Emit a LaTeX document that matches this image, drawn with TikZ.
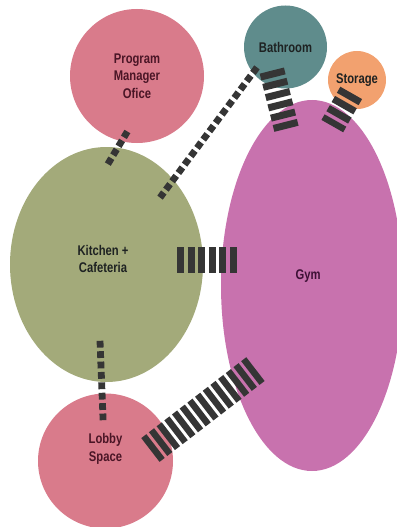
\documentclass[tikz,border=0pt]{standalone}
\usepackage{fontspec}
\setmainfont{Liberation Sans}[FakeStretch=0.8]
\usetikzlibrary{shapes.geometric}
\newlength{\px}
\setlength{\px}{0.02cm}
\definecolor{roompink}{HTML}{D97B8B}
\definecolor{bathteal}{HTML}{5F8C8C}
\definecolor{storeorange}{HTML}{F2A16F}
\definecolor{kitchengreen}{HTML}{A3AA7A}
\definecolor{gympurple}{HTML}{C872AE}
\definecolor{bar}{HTML}{353535}
\definecolor{maroontext}{HTML}{4A1526}
\definecolor{darktext}{HTML}{1E2222}
\definecolor{gymtext}{HTML}{3D1035}
\tikzset{room/.style = {circle,inner sep=0pt,align=center,font=\fontsize{8}{10}\selectfont\bfseries},
  oval/.style = {room,ellipse},
  lbl/.style = {align=center,font=\fontsize{8}{10}\selectfont\bfseries},
  dots/.style = {draw=bar,line width=6.8\px,dash pattern=on 6.8\px off 3.6\px},
  bars/.style = {draw=bar,dash pattern=on 7\px off 3.6\px}}

\begin{document}
\begin{tikzpicture}[x=0.02cm,y=-0.02cm]
    \useasboundingbox (0,0) rectangle (396,527);
    % rooms
    \node[room,fill=roompink,text=maroontext,minimum size=134\px] (pmo) at (137,76) {Program\\Manager\\Ofice};
    \node[room,fill=bathteal,text=darktext,minimum size=83\px] (bath) at (285.5,47) {Bathroom};
    \node[room,fill=storeorange,text=darktext,minimum size=58\px] (store) at (357,80) {Storage};
    \node[oval,fill=kitchengreen,minimum width=193\px,minimum height=235\px,
        label={[lbl,text=darktext,xshift=-3.5\px,yshift=5.5\px]center:Kitchen +\\Cafeteria}] (kitchen) at (106.5,264.5) {};
    \node[oval,fill=gympurple,minimum width=182\px,minimum height=371\px,
        label={[lbl,text=gymtext,xshift=-4\px,yshift=9.5\px]center:Gym}] (gym) at (312,285.5) {};
    \node[room,fill=roompink,minimum size=135\px,
        label={[lbl,text=maroontext,yshift=12\px]center:Lobby\\Space}] (lobby) at (105.5,461) {};
    % links
    \coordinate (pk1) at (127.4,131.5);
    \coordinate (pk2) at (107.6,164.5);
    \coordinate (bk1) at (257,67.4);
    \coordinate (bk2) at (160,197.6);
    \coordinate (kl1) at (100,340.8);
    \coordinate (kl2) at (103.1,420.2);
    \coordinate (kg1) at (177,260);
    \coordinate (kg2) at (237,260);
    \coordinate (bg1) at (271.8,70.6);
    \coordinate (bg2) at (286.9,130.4);
    \coordinate (sg1) at (351.2,92.9);
    \coordinate (sg2) at (332.3,126.1);
    \coordinate (lg1) at (150.4,450);
    \coordinate (lg2) at (255.6,369);
    \draw[dots] (pk1) -- (pk2);
    \draw[dots] (bk1) -- (bk2);
    \draw[dots] (kl1) -- (kl2);
    \draw[bars,line width=26\px] (kg1) -- (kg2);
    \draw[bars,line width=25\px] (bg1) -- (bg2);
    \draw[bars,line width=25\px] (sg1) -- (sg2);
    \draw[bars,line width=30\px,dash pattern=on 6.5\px off 3.2\px] (lg1) -- (lg2);
\end{tikzpicture}
\end{document}
